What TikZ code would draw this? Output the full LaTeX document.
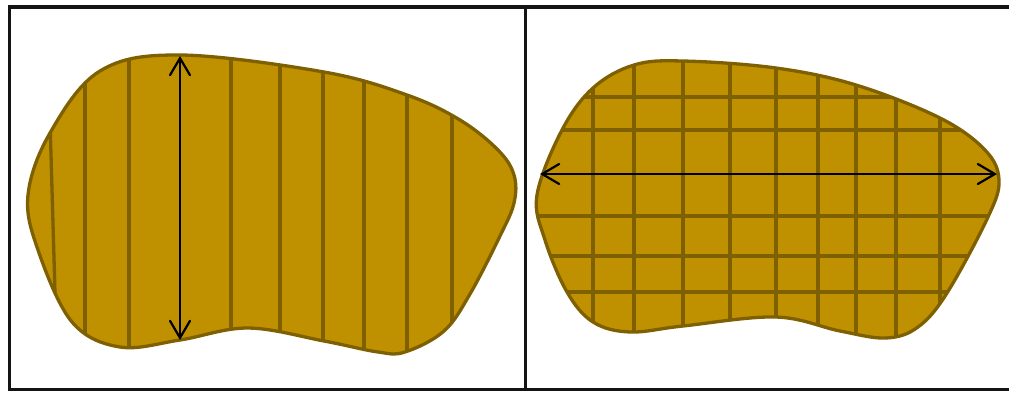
\documentclass[tikz,border=0pt]{standalone}
\usetikzlibrary{arrows.meta}
\definecolor{goldfill}{HTML}{BF9000}
\definecolor{goldline}{HTML}{7F6000}
\begin{document}
\begin{tikzpicture}[x=1pt,y=-1pt,
  blob/.style={fill=goldfill,draw=goldline,line width=3.3pt},
  hatch/.style={draw=goldline,line width=3.3pt},
  measure/.style={draw=black,line width=2.2pt,
    {Straight Barb[length=17pt,width=20pt,line cap=round]}-{Straight Barb[length=17pt,width=20pt,line cap=round]}},
  framestyle/.style={draw=black!92,line width=3.5pt}]
\useasboundingbox (0,0) rectangle (1009,392);
\clip (0,0) rectangle (1009,392);
% frame
\draw[framestyle] (1020,6.8) -- (9.5,6.8) -- (9.5,389.5) -- (1020,389.5);
\draw[framestyle] (525.5,6.8) -- (525.5,389.5);
% left blob
\def\leftblob{plot[smooth cycle,tension=0.6] coordinates {
  (180,55) (324,72) (407,95) (460,120) (498,150) (514,175) (514,203) (500,236)
  (470,294) (444,331) (405,352) (378,352) (324,341) (248,328) (180,340) (120,347)
  (72,322) (38,250) (28,195) (50,133) (100,71)}}
\fill[goldfill] \leftblob;
\begin{scope}
  \clip \leftblob;
  \foreach \x in {85,129,231,280,323,364,407,452} \draw[hatch] (\x,40) -- (\x,370);
  \draw[hatch] (50,120) -- (55.5,310);
\end{scope}
\draw[blob,fill=none] \leftblob;
\coordinate (lt) at (180,56);
\coordinate (lb) at (180,340);
\draw[measure] (lt) -- (lb);
% right blob
\def\rightblob{plot[smooth cycle,tension=0.6] coordinates {
  (683,61) (776,68) (856,85) (940,118) (985,150) (999,180) (988,217) (947,293)
  (918,327) (886,338) (840,331) (776,317) (683,326) (630,332) (593,322) (567,292) (545,240)
  (537,195) (562,130) (593,88) (634,65)}}
\fill[goldfill] \rightblob;
\begin{scope}
  \clip \rightblob;
  \foreach \x in {593,634,683,730,776,818,856,896,940} \draw[hatch] (\x,40) -- (\x,370);
  \foreach \y in {97,130,216,256,292} \draw[hatch] (520,\y) -- (1009,\y);
\end{scope}
\draw[blob,fill=none] \rightblob;
\coordinate (rl) at (540,174);
\coordinate (rr) at (997,174);
\draw[measure] (rl) -- (rr);
\end{tikzpicture}
\end{document}
